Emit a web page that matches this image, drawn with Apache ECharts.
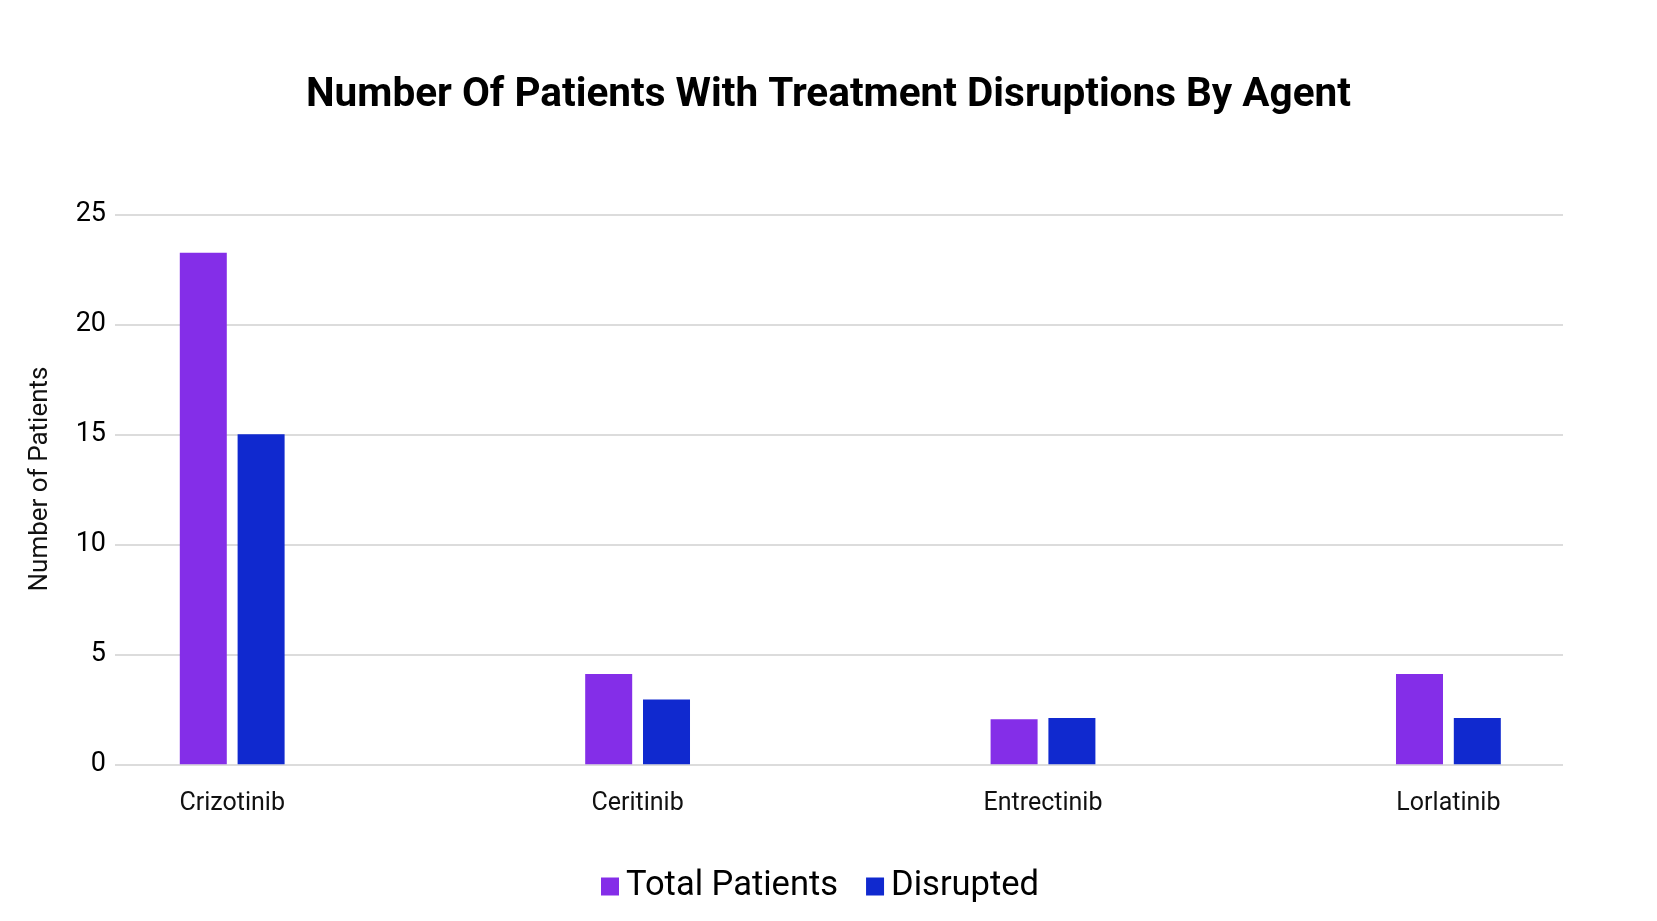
<!DOCTYPE html>
<html>
<head>
<meta charset="utf-8">
<title>Number Of Patients With Treatment Disruptions By Agent</title>
<script src="https://cdn.jsdelivr.net/npm/echarts@6/dist/echarts.min.js"></script>
<style>
  html, body { margin: 0; padding: 0; background: #fff; }
  #main { width: 1657px; height: 921px; }
</style>
</head>
<body>
<div id="main"></div>
<script>
// data
var agents = ['Crizotinib', 'Ceritinib', 'Entrectinib', 'Lorlatinib'];
var totalPatients = [23.25, 4.1, 2.05, 4.1];
var disrupted = [15, 2.95, 2.1, 2.1];
var yTicks = [0, 5, 10, 15, 20, 25];

var purple = '#842ee8';
var blue = '#1029cf';
var font = 'Roboto';

var myChart = echarts.init(document.getElementById('main'));

var option = {
    backgroundColor: '#fff',
    animation: false,
    title: {
        text: 'Number Of Patients With Treatment Disruptions By Agent',
        left: 'center',
        top: 76,
        padding: 0,
        textStyle: { fontFamily: font, fontSize: 40.5, fontWeight: 'bold', color: '#000', lineHeight: 40 }
    },
    legend: {
        data: ['Total Patients', 'Disrupted'],
        left: 601,
        top: 869,
        padding: 0,
        icon: 'rect',
        itemWidth: 18,
        itemHeight: 18,
        itemGap: 28,
        textStyle: { fontFamily: font, fontSize: 34.5, color: '#000', padding: [0, 0, 0, 2] }
    },
    // grid 0 carries the y scale and gridlines, grid 1 places the bar groups
    grid: [
        { left: 115, right: 94, top: 214.3, bottom: 156.7 },
        { left: 29.5, right: 5.9, top: 214.3, bottom: 156.7 }
    ],
    xAxis: [
        { type: 'category', gridIndex: 0, data: agents, show: false },
        {
            type: 'category', gridIndex: 1, data: agents,
            axisLine: { show: false },
            axisTick: { show: false },
            axisLabel: { fontFamily: font, fontSize: 25, color: '#111', margin: 27 }
        }
    ],
    yAxis: [
        {
            type: 'value', gridIndex: 0, min: yTicks[0], max: yTicks[yTicks.length - 1], interval: 5,
            axisLine: { show: false },
            axisTick: { show: false },
            axisLabel: { fontFamily: font, fontSize: 27, color: '#000', margin: 9 },
            splitLine: { lineStyle: { color: '#dcdcdc', width: 2 } }
        },
        {
            type: 'value', gridIndex: 1, min: 0, max: 25, interval: 5, show: false,
            splitLine: { show: false }
        }
    ],
    graphic: [{
        type: 'text',
        x: 40,
        y: 479,
        rotation: Math.PI / 2,
        style: {
            text: 'Number of Patients',
            fontFamily: font,
            fontSize: 26,
            fill: '#111',
            textAlign: 'center',
            textVerticalAlign: 'middle'
        }
    }],
    series: [
        {
            name: 'Total Patients',
            type: 'bar',
            xAxisIndex: 1,
            yAxisIndex: 1,
            barWidth: 47,
            barGap: '23%',
            itemStyle: { color: purple },
            data: totalPatients
        },
        {
            name: 'Disrupted',
            type: 'bar',
            xAxisIndex: 1,
            yAxisIndex: 1,
            barWidth: 47,
            barGap: '23%',
            itemStyle: { color: blue },
            data: disrupted
        }
    ]
};

myChart.setOption(option);
</script>
</body>
</html>
